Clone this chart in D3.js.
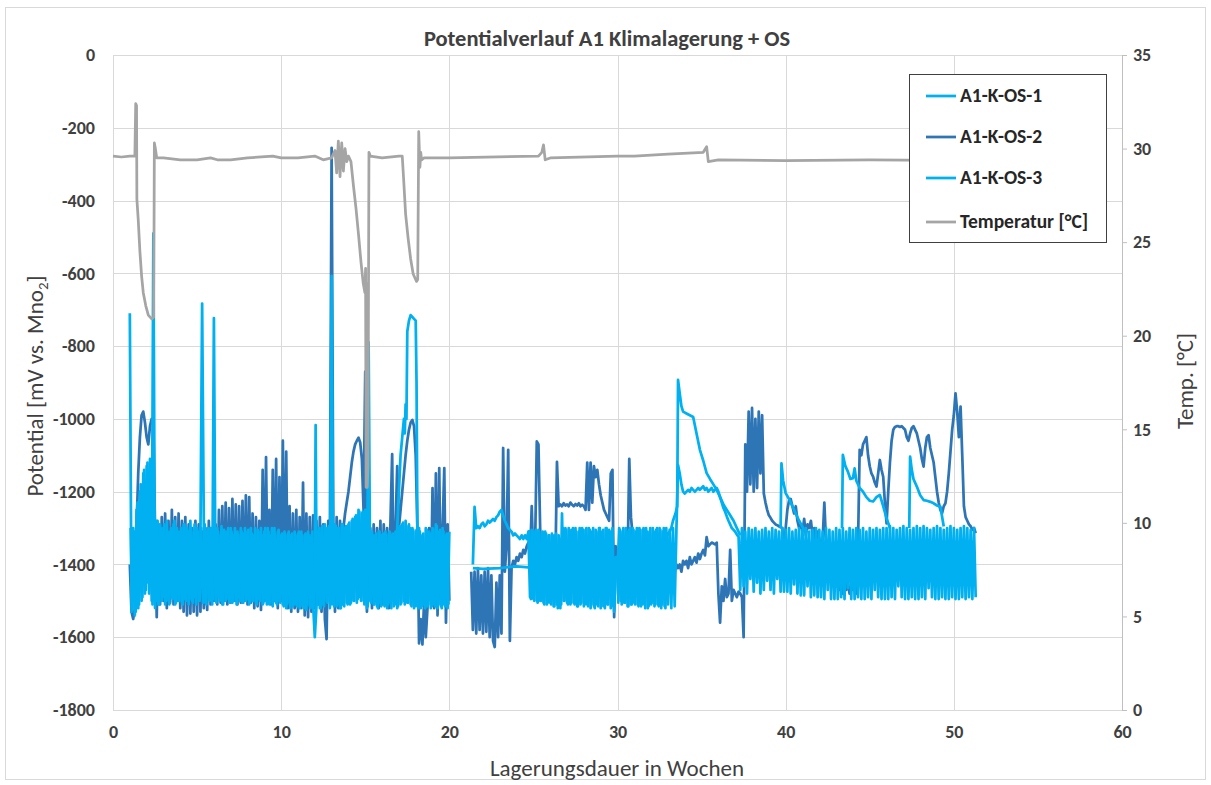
<!DOCTYPE html>
<html><head><meta charset="utf-8">
<script src="https://cdn.jsdelivr.net/npm/d3@7"></script>
<style>
html,body{margin:0;padding:0;background:#fff;}
svg text{font-family:Carlito,Lato,"Liberation Sans",sans-serif;}
</style></head>
<body><svg id="c" width="1211" height="785"></svg>
<script>
// ---------------- DATA ----------------
const title = "Potentialverlauf A1 Klimalagerung + OS";
const seriesNames = ["A1-K-OS-1", "A1-K-OS-2", "A1-K-OS-3", "Temperatur [°C]"];
const xTicks = [0, 10, 20, 30, 40, 50, 60];
const yTicks = [-1800, -1600, -1400, -1200, -1000, -800, -600, -400, -200, 0];
const tTicks = [0, 5, 10, 15, 20, 25, 30, 35];
const sampleStep = 0.1; // weeks between logged samples

// A1-K-OS-1: logged every 0.1 weeks (offset), plus irregular readings
const os1A_start = 1.05;
const os1A = [
 -1300,-1520,-1310,-1530,-1230,-1510,-1180,-1490,-1140,-1470,
 -1120,-1480,-1300,-1510,-1290,-1500,-1280,-1510,-1300,-1490,
 -1290,-1500,-1310,-1510,-1300,-1495,-1280,-1505,-1310,-1500,
 -1300,-1510,-1290,-1500,-1310,-1495,-1300,-1505,-1290,-1510,
 -1310,-1500,-1300,-1505,-1290,-1510,-1300,-1500,-1310,-1495,
 -1300,-1505,-1310,-1500,-1295,-1510,-1310,-1495,-1300,-1505,
 -1310,-1500,-1300,-1510,-1320,-1500,-1310,-1505,-1300,-1495,
 -1305,-1505,-1315,-1500,-1300,-1510,-1310,-1500,-1320,-1505,
 -1300,-1510,-1310,-1505,-1300,-1500,-1320,-1510,-1305,-1505,
 -1315,-1515,-1320,-1510,-1310,-1520,-1315,-1510,-1320,-1515,
 -1310,-1515,-1320,-1520,-1315,-1510,-1320,-1520,-1310,-1515,
 -1305,-1510,-1300,-1520,-1295,-1515,-1300,-1505,-1295,-1510,
 -1300,-1515,-1295,-1510,-1300,-1520,-1290,-1515,-1295,-1510,
 -1285,-1505,-1275,-1500,-1265,-1495,-1255,-1500,-1255,-1510,
 -1300,-1515,-1315,-1505,-1320,-1510,-1315,-1520,-1310,-1515,
 -1315,-1515,-1320,-1510,-1310,-1520,-1315,-1510,-1320,-1515,
 -1295,-1505,-1285,-1510,-1295,-1505,-1300,-1515,-1305,-1515,
 -1305,-1520,-1310,-1515,-1315,-1520,-1305,-1510,-1315,-1515,
 -1305,-1515,-1295,-1510,-1305,-1520,-1310,-1515,-1315,-1510
];
const os1B_start = 24.75;
const os1B = [
 -1305,-1495,-1310,
 -1500,-1305,-1505,-1310,-1500,-1310,-1510,-1315,-1505,-1320,
 -1510,-1320,-1515,-1315,-1520,-1330,-1510,-1300,-1500,-1305,
 -1510,-1305,-1505,-1300,-1510,-1310,-1515,-1300,-1505,-1305,
 -1510,-1300,-1515,-1305,-1510,-1300,-1520,-1310,-1515,-1300,
 -1515,-1305,-1520,-1300,-1510,-1310,-1515,-1400,-1420,-1380,
 -1505,-1305,-1510,-1300,-1505,-1310,-1515,-1300,-1510,-1305,
 -1510,-1300,-1515,-1305,-1510,-1300,-1520,-1310,-1515,-1300,
 -1505,-1310,-1510,-1300,-1515,-1305,-1510,-1300,-1520,-1310
];
const os1Weeks = [
 12.0,12.05,12.1, null,
 16.8,17.0,17.1,17.2,17.3,17.35,17.4,17.45,17.5,17.6,17.7,17.8,17.9,18.0,18.05,18.1,18.15, null,
 21.4,22.0,23.0,24.0,24.7, null,
 33.0,33.2,33.3,33.45,33.55,33.6,33.7,33.8,33.9,34.1,34.3,34.5,34.7,34.9,35.1,35.3,35.5,35.7,35.9,36.1,36.3,36.5,36.7,36.9,37.1,37.3, null,
 39.7,39.75,39.85,40.0,40.2,40.5,40.8,41.1,41.3, null,
 43.35,43.4,43.55,43.7,43.85,44.0,44.1,44.2,44.4,44.6,44.8,45.0,45.2,45.4,45.6,45.8,46.0,46.2, null,
 47.35,47.4,47.5,47.6,47.8,48.0,48.2,48.4,48.6,48.8,49.0,49.2,49.4
];
const os1Values = [
 -1400,-1017,-1400, null,
 -1400,-1200,-1100,-1050,-1000,-1040,-960,-1000,-760,-730,-715,-720,-725,-730,-900,-1300,-1400, null,
 -1410,-1412,-1410,-1405,-1408, null,
 -1320,-1300,-1280,-1260,-1240,-893,-930,-965,-980,-985,-990,-995,-1040,-1085,-1115,-1149,-1165,-1180,-1195,-1215,-1235,-1250,-1265,-1280,-1300,-1320, null,
 -1300,-1122,-1170,-1204,-1220,-1250,-1280,-1305,-1310, null,
 -1300,-1099,-1130,-1145,-1165,-1163,-1136,-1170,-1190,-1200,-1215,-1225,-1227,-1215,-1209,-1240,-1273,-1300, null,
 -1300,-1104,-1140,-1165,-1186,-1210,-1223,-1225,-1228,-1232,-1238,-1241,-1296
];

// A1-K-OS-2: logged every 0.1 weeks
const os2A_start = 1.0;
const os2A = [
 -1400,-1530,-1550,-1520,-1300,-1150,-1050,-990,-980,-1010,
 -1050,-1070,-1020,-1000,-1010,-1300,-1545,-1290,-1510,-1270,
 -1500,-1260,-1520,-1280,-1505,-1250,-1510,-1270,-1500,-1260,
 -1520,-1280,-1530,-1270,-1540,-1290,-1535,-1300,-1530,-1280,
 -1540,-1290,-1530,-1310,-1520,-1300,-1525,-1280,-1510,-1300,
 -1500,-1290,-1510,-1250,-1505,-1240,-1500,-1230,-1510,-1245,
 -1505,-1220,-1500,-1235,-1510,-1240,-1505,-1225,-1500,-1210,
 -1510,-1215,-1505,-1260,-1520,-1270,-1515,-1280,-1525,-1140,
 -1500,-1105,-1480,-1250,-1510,-1140,-1500,-1110,-1520,-1160,
 -1500,-1060,-1510,-1090,-1520,-1240,-1530,-1260,-1520,-1250,
 -1530,-1270,-1520,-1175,-1540,-1260,-1545,-1270,-1530,-1265,
 -1520,-1280,-1510,-1270,-1530,-1290,-1550,-1605,-1280,-1300,
 -255,-1290,-1530,-1270,-1520,-1280,-1510,-1300,-1260,-1230,
 -1200,-1160,-1120,-1090,-1070,-1060,-1052,-1065,-1110,-1250,
 -870,-1530,-1400,-1300,-1520,-1290,-1500,-1300,-1520,-1280,
 -1510,-1290,-1500,-1300,-1520,-1280,-1097,-1500,-1300,-1130,
 -1300,-1250,-1200,-1150,-1100,-1060,-1030,-1010,-1003,-1020,
 -1100,-1300,-1617,-1550,-1620,-1500,-1600,-1520,-1300,-1500,
 -1190,-1520,-1150,-1540,-1135,-1510,-1300,-1135,-1560,-1290,
 -1500
];
const os2B_start = 21.3;
const os2B = [
 -1420,-1580,-1420,-1590,-1410,-1580,-1430,
 -1590,-1420,-1585,-1410,-1600,-1430,-1610,-1627,-1450,-1600,
 -1430,-1590,-1080,-1420,-1350,-1085,-1610,-1410,-1390,-1400,
 -1380,-1390,-1370,-1380,-1360,-1370,-1350,-1340,-1380,-1240,
 -1400,-1350,-1062,-1070,-1300,-1420,-1380,-1430,-1390,-1420,
 -1400,-1430,-1390,-1420,-1118,-1240,-1235,-1240,-1232,-1238,
 -1235,-1240,-1230,-1236,-1240,-1234,-1238,-1232,-1240,-1236,
 -1240,-1250,-1120,-1250,-1120,-1230,-1130,-1160,-1140,-1180,
 -1210,-1230,-1250,-1260,-1270,-1280,-1150,-1140,-1545,-1350,
 -1380,-1370,-1390,-1360,-1380,-1370,-1390,-1110,-1270,-1320,
 -1380,-1420,-1390,-1410,-1380,-1420,-1400,-1390,-1410,-1380,
 -1400,-1420,-1390,-1410,-1380,-1400,-1420,-1390,-1410,-1400,
 -1390,-1410,-1400,-1380,-1420,-1400,-1410,-1400,-1420,-1390,
 -1400,-1390,-1410,-1380,-1400,-1390,-1380,-1395,-1370,-1385,
 -1370,-1360,-1375,-1325,-1350,-1345,-1340,-1342,-1345,-1340,
 -1480,-1560,-1460,-1500,-1440,-1490,-1480,-1360,-1500,-1470,
 -1480,-1490,-1475,-1480,-1490,-1600,-1070,-1200,-980,-1180,
 -970,-1200,-1000,-1190,-980,-1150,-990,-1205,-1230,-1250,
 -1265,-1272,-1280,-1285,-1290,-1292,-1295,-1298,-1300,-1380,
 -1300,-1250,-1225,-1220,-1240,-1260,-1240,-1280,-1300,-1290,
 -1310,-1275,-1320,-1290,-1300,-1280,-1320,-1300,-1340,-1310,
 -1330,-1350,-1330,-1230,-1340,-1360,-1420,-1380,-1440,-1400,
 -1460,-1420,-1470,-1430,-1480,-1440,-1470,-1450,-1480,-1460,
 -1470,-1440,-1480,-1350,-1085,-1100,-1070,-1060,-1050,-1100,
 -1130,-1150,-1159,-1175,-1186,-1150,-1113,-1140,-1159,-1230,
 -1287,-1200,-1120,-1060,-1030,-1022,-1020,-1020,-1022,-1020,
 -1025,-1030,-1050,-1060,-1040,-1025,-1020,-1030,-1040,-1060,
 -1080,-1110,-1131,-1080,-1050,-1045,-1080,-1100,-1120,-1160,
 -1200,-1230,-1250,-1259,-1240,-1232,-1200,-1150,-1090,-1030,
 -990,-930,-980,-1050,-966,-1100,-1240,-1270,-1280,-1290,
 -1295,-1305,-1300,-1314
];

// A1-K-OS-3: logged every 0.1 weeks
const os3A_start = 1.0;
const os3A = [
 -710,-1530,-1300,-1540,-1250,-1520,-1200,-1500,-1150,-1480,
 -1130,-1450,-1110,-1500,-490,-1520,-1280,-1510,-1290,-1500,
 -1300,-1510,-1280,-1500,-1310,-1490,-1290,-1510,-1300,-1500,
 -1310,-1505,-1290,-1495,-1300,-1510,-1280,-1500,-1310,-1490,
 -1300,-1500,-1320,-683,-1290,-1505,-1310,-1495,-1300,-1510,
 -723,-1500,-1300,-1490,-1320,-1510,-1305,-1500,-1310,-1495,
 -1300,-1505,-1320,-1500,-1310,-1490,-1300,-1505,-1315,-1500,
 -1310,-1510,-1300,-1500,-1320,-1505,-1305,-1495,-1300,-1510,
 -1310,-1500,-1300,-1510,-1320,-1515,-1300,-1505,-1310,-1500,
 -1320,-1510,-1310,-1520,-1315,-1505,-1320,-1515,-1310,-1510,
 -1315,-1520,-1310,-1510,-1320,-1525,-1310,-1515,-1320,-1510,
 -1600,-1515,-1310,-1520,-1300,-1510,-1290,-1500,-1300,-1520,
 -607,-1510,-1290,-1515,-1300,-1520,-1290,-1510,-1300,-1505,
 -1290,-1510,-1280,-1500,-1270,-1505,-1250,-1490,-1260,-1500,
 -1250,-1520,-790,-1500,-1310,-1510,-1320,-1515,-1310,-1505,
 -1320,-1510,-1310,-1520,-1315,-1505,-1320,-1515,-1310,-1520,
 -1300,-1510,-1290,-1500,-1280,-1505,-1290,-1510,-1300,-1520,
 -1310,-1515,-1300,-1520,-1320,-1510,-1300,-1515,-1310,-1520,
 -1300,-1510,-1290,-1520,-1310,-1515,-1300,-1510,-1320,-1520,
 -1310
];
const os3B_start = 21.4;
const os3B = [
 -1400,-1242,-1300,-1295,-1300,-1290,
 -1285,-1295,-1290,-1280,-1285,-1280,-1275,-1280,-1270,-1265,
 -1255,-1250,-1265,-1280,-1290,-1300,-1305,-1310,-1320,-1315,
 -1320,-1325,-1330,-1320,-1330,-1320,-1330,-1310,-1490,-1305,
 -1495,-1310,-1500,-1305,-1500,-1315,-1505,-1310,-1510,-1320,
 -1505,-1315,-1515,-1320,-1510,-1320,-1520,-1260,-1500,-1300,
 -1505,-1300,-1510,-1305,-1505,-1300,-1515,-1310,-1510,-1300,
 -1515,-1305,-1510,-1300,-1520,-1310,-1515,-1305,-1510,-1300,
 -1520,-1310,-1515,-1300,-1510,-1305,-1520,-1300,-1530,-1380,
 -1420,-1300,-1500,-1310,-1505,-1300,-1515,-1305,-1510,-1300,
 -1505,-1310,-1510,-1300,-1515,-1305,-1510,-1300,-1520,-1310,
 -1510,-1300,-1515,-1305,-1510,-1300,-1520,-1310,-1515,-1300,
 -1510,-1305,-1520,-1300,-1515,-1310,-1127,-1150,-1180,-1200,
 -1205,-1200,-1195,-1200,-1190,-1195,-1200,-1195,-1190,-1195,
 -1190,-1185,-1195,-1190,-1200,-1195,-1190,-1200,-1195,-1190,
 -1200,-1215,-1230,-1245,-1255,-1268,-1280,-1290,-1300,-1305,
 -1310,-1318,-1324,-1470,-1300,-1460,-1310,-1480,-1300,-1440,
 -1305,-1475,-1300,-1450,-1310,-1480,-1305,-1470,-1300,-1445,
 -1310,-1470,-1300,-1480,-1305,-1440,-1310,-1475,-1300,-1475,
 -1305,-1475,-1300,-1480,-1310,-1455,-1305,-1480,-1300,-1485,
 -1305,-1485,-1300,-1460,-1310,-1490,-1305,-1485,-1300,-1490,
 -1305,-1490,-1310,-1495,-1300,-1470,-1305,-1495,-1310,-1495,
 -1300,-1495,-1305,-1490,-1300,-1495,-1310,-1465,-1300,-1495,
 -1305,-1495,-1300,-1490,-1305,-1495,-1300,-1495,-1310,-1490,
 -1300,-1495,-1305,-1470,-1300,-1490,-1305,-1495,-1300,-1495,
 -1300,-1495,-1295,-1490,-1300,-1495,-1305,-1460,-1300,-1490,
 -1295,-1495,-1300,-1495,-1305,-1490,-1300,-1495,-1295,-1495,
 -1300,-1490,-1295,-1495,-1300,-1465,-1305,-1490,-1300,-1495,
 -1295,-1495,-1300,-1490,-1305,-1495,-1300,-1495,-1295,-1490,
 -1300,-1495,-1305,-1495,-1300,-1490,-1295,-1495,-1300,-1490,
 -1305,-1495,-1300,-1490
];

// Temperatur [°C]
const tempWeeks = [0.0,0.5,1.0,1.3,1.35,1.4,1.42,1.5,1.6,1.7,1.8,1.95,2.1,2.3,2.42,2.46,2.52,2.6,3.0,4.0,5.0,5.8,6.2,7.0,8.0,9.5,10.0,11.0,12.0,12.5,13.0,13.2,13.3,13.4,13.5,13.6,13.7,13.8,13.9,14.0,14.15,14.3,14.45,14.6,14.75,14.88,14.98,15.02,15.05,15.08,15.12,15.16,15.22,15.3,16.0,17.0,17.2,17.28,17.4,17.55,17.7,17.85,18.05,18.12,18.18,18.25,18.3,18.35,18.5,20.0,25.3,25.5,25.6,25.7,26.0,30.0,31.0,33.0,35.1,35.3,35.4,36.0,40.0,45.0,51.3];
const tempValues = [29.6,29.55,29.6,29.6,32.4,32.3,27.3,26.2,24.5,23.2,22.3,21.6,21.1,20.9,21.0,30.3,30.0,29.5,29.5,29.4,29.4,29.5,29.4,29.4,29.5,29.6,29.5,29.5,29.6,29.4,29.5,29.9,28.7,30.4,28.5,30.3,28.8,30.0,29.3,29.6,29.3,28.0,26.8,25.4,23.9,22.8,22.3,23.6,11.9,22.8,11.9,13.0,29.8,29.6,29.5,29.6,29.6,28.4,26.5,25.2,24.1,23.3,22.9,23.0,30.9,29.0,29.8,29.4,29.5,29.5,29.6,29.8,30.2,29.4,29.5,29.6,29.6,29.7,29.8,30.1,29.3,29.4,29.35,29.4,29.35];

// ---------------- CHART ----------------
const colors = ["#00B0F0", "#2E75B6", "#00B0F0", "#A5A5A5"];
const svg = d3.select("#c");
const L = 113, R = 1122, T = 55, B = 710;
const x = d3.scaleLinear().domain([0, 60]).range([L, R]);
const y = d3.scaleLinear().domain([-1800, 0]).range([B, T]);
const yT = d3.scaleLinear().domain([0, 35]).range([B, T]);

svg.append("rect").attr("x", 5.5).attr("y", 7.5).attr("width", 1200).attr("height", 772)
  .attr("fill", "#fff").attr("stroke", "#d9d9d9");

// gridlines
svg.append("g").selectAll("line").data(yTicks).join("line")
  .attr("x1", L).attr("x2", R).attr("y1", d => Math.round(y(d)) + 0.5).attr("y2", d => Math.round(y(d)) + 0.5)
  .attr("stroke", "#d9d9d9");
svg.append("g").selectAll("line").data(xTicks).join("line")
  .attr("y1", T).attr("y2", B).attr("x1", d => Math.round(x(d)) + 0.5).attr("x2", d => Math.round(x(d)) + 0.5)
  .attr("stroke", "#d9d9d9");

// axes
const fmt = v => String(v);
const axL = svg.append("g").attr("transform", `translate(${L},0)`)
  .call(d3.axisLeft(y).tickValues(yTicks).tickSize(0).tickPadding(18).tickFormat(fmt));
const axB = svg.append("g").attr("transform", `translate(0,${B})`)
  .call(d3.axisBottom(x).tickValues(xTicks).tickSize(0).tickPadding(15).tickFormat(fmt));
const axR = svg.append("g").attr("transform", `translate(${R},0)`)
  .call(d3.axisRight(yT).tickValues(tTicks).tickSize(5).tickPadding(6).tickFormat(fmt));
[axL, axB, axR].forEach(a => {
  a.select(".domain").attr("stroke", "#bfbfbf");
  a.selectAll(".tick line").attr("stroke", "#bfbfbf");
  a.selectAll(".tick text").attr("fill", "#404040").attr("font-size", 18).attr("font-weight", 700);
});
axL.select(".domain").remove();
axB.select(".domain").attr("stroke", "#d9d9d9");

// series
function sampled(start, vals) {
  return vals.map((v, i) => ({ w: start + i * sampleStep, v }));
}
function paired(ws, vs) { return ws.map((w, i) => ({ w, v: vs[i] })); }
const line = d3.line().defined(d => d.v != null && d.w != null).x(d => x(d.w)).y(d => y(d.v));
const lineT = d3.line().defined(d => d.v != null).x(d => x(d.w)).y(d => yT(d.v));
const plot = svg.append("g");
const draw = (data, col, gen) => plot.append("path").datum(data).attr("d", gen)
  .attr("fill", "none").attr("stroke", col).attr("stroke-width", 2.75).attr("stroke-linejoin", "round");

draw(sampled(os2A_start, os2A), colors[1], line);
draw(sampled(os2B_start, os2B), colors[1], line);
draw(sampled(os1A_start, os1A), colors[0], line);
draw(sampled(os1B_start, os1B), colors[0], line);
draw(paired(os1Weeks, os1Values), colors[0], line);
draw(sampled(os3A_start, os3A), colors[2], line);
draw(sampled(os3B_start, os3B), colors[2], line);
draw(paired(tempWeeks, tempValues), colors[3], lineT);

// title & axis titles
svg.append("text").attr("x", 607).attr("y", 46).attr("text-anchor", "middle")
  .attr("font-size", 22.5).attr("font-weight", 700).attr("fill", "#404040").text(title);
svg.append("text").attr("x", 617).attr("y", 776).attr("text-anchor", "middle")
  .attr("font-size", 23).attr("fill", "#404040").text("Lagerungsdauer in Wochen");
const yl = svg.append("text").attr("transform", "translate(43,386) rotate(-90)").attr("text-anchor", "middle")
  .attr("font-size", 23).attr("fill", "#404040");
yl.append("tspan").text("Potential [mV vs. Mno");
yl.append("tspan").attr("font-size", 15).attr("dy", 5).text("2");
yl.append("tspan").attr("dy", -5).text("]");
svg.append("text").attr("transform", "translate(1193,381) rotate(-90)").attr("text-anchor", "middle")
  .attr("font-size", 23).attr("fill", "#404040").text("Temp. [°C]");

// legend
const lg = svg.append("g");
lg.append("rect").attr("x", 909.5).attr("y", 74.5).attr("width", 197).attr("height", 168)
  .attr("fill", "#fff").attr("stroke", "#404040");
const rowsY = [96, 137, 178, 222];
seriesNames.forEach((n, i) => {
  lg.append("line").attr("x1", 926).attr("x2", 956).attr("y1", rowsY[i]).attr("y2", rowsY[i])
    .attr("stroke", colors[i]).attr("stroke-width", 2.75);
  lg.append("text").attr("x", 960).attr("y", rowsY[i] + 6).attr("font-size", 19.5).attr("font-weight", 700)
    .attr("fill", "#262626").text(n);
});
</script></body></html>
